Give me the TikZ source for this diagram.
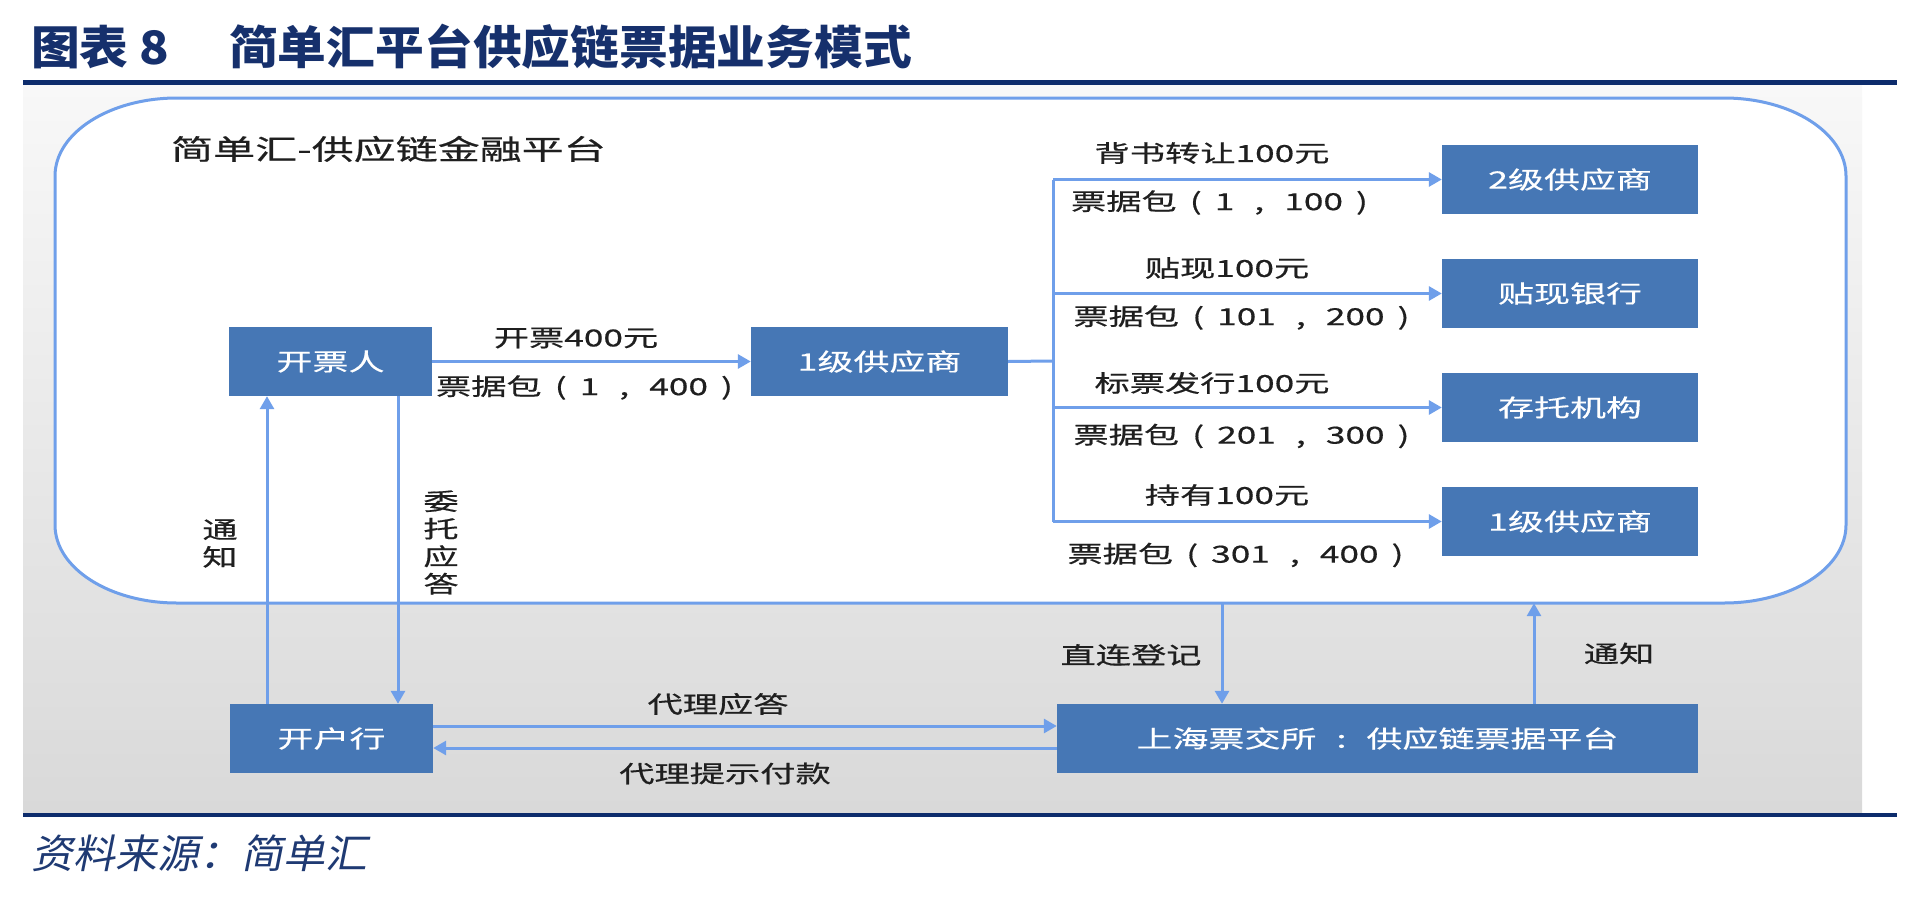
\documentclass[tikz,border=0pt]{standalone}
\usepackage{fontspec}
\usetikzlibrary{arrows.meta,calc}
\newfontfamily\lblfont{Noto Sans CJK SC}[FakeStretch=1.5,FakeBold=0.6]
\newfontfamily\boxfont{Noto Sans CJK SC}[FakeStretch=1.5,FakeBold=0.4]
\newfontfamily\titlefont{Noto Sans CJK SC}[FakeStretch=1.06]
\newfontfamily\footfont{Noto Sans CJK SC}[FakeStretch=1.05,FakeSlant=0.2]
\newcommand{\myLP}{\makebox[38pt][c]{(}}
\newcommand{\myRP}{\makebox[38pt][c]{)}}
\newcommand{\myCM}{\makebox[50pt][c]{,}}
\newcommand{\myCL}{\makebox[50pt][c]{:}}
\definecolor{boxblue}{HTML}{4677B5}
\definecolor{lineblue}{HTML}{6F9FEA}
\definecolor{navy}{HTML}{0D2C6C}
\definecolor{titlenavy}{HTML}{16306C}
\definecolor{srcnavy}{HTML}{1F3A73}
\definecolor{paneltop}{HTML}{F8F8F8}
\definecolor{panelbot}{HTML}{D9D9D9}
\begin{document}
\begin{tikzpicture}[x=1pt,y=-1pt,
  bluebox/.style={rectangle, fill=boxblue, draw=none, text=white,
    font=\boxfont\fontsize{24}{28}\selectfont, minimum height=69pt, inner sep=0pt},
  lbl/.style={font=\lblfont\fontsize{23.5}{27.5}\selectfont, text=black!88, inner sep=0pt},
  arr/.style={draw=lineblue, line width=3pt, -{Triangle[length=13pt,width=14pt]}},
  plainline/.style={draw=lineblue, line width=3pt}]
\useasboundingbox (0,0) rectangle (1920,902);
\fill[white] (0,0) rectangle (1920,902);
% panel
\shade[top color=paneltop,bottom color=panelbot] (23,85) rectangle (1862,812);
\draw[navy, line width=5pt] (23,82.5) -- (1897,82.5);
\draw[navy, line width=4pt] (23,815) -- (1897,815);
% title and source
\node[anchor=west, text=titlenavy, font=\titlefont\bfseries\fontsize{46}{50}\selectfont, inner sep=0pt] (t1) at (31,47) {图表 8};
\node[anchor=west, text=titlenavy, font=\titlefont\bfseries\fontsize{46}{50}\selectfont, inner sep=0pt] (t2) at (229,47) {简单汇平台供应链票据业务模式};
\node[anchor=west, text=srcnavy, font=\footfont\fontsize{40}{44}\selectfont, inner sep=0pt] (src) at (31,853) {资料来源：简单汇};
% platform outline
\draw[lineblue, line width=3pt, fill=white]
  (177,98) -- (1724,98) .. controls (1791.4,98) and (1846,132.9) .. (1846,176)
  -- (1846,525) .. controls (1846,568.1) and (1791.4,603) .. (1724,603)
  -- (177,603) .. controls (109.6,603) and (55,568.1) .. (55,525)
  -- (55,176) .. controls (55,132.9) and (109.6,98) .. (177,98) -- cycle;
\node[rectangle, minimum width=1791pt, minimum height=505pt, inner sep=0pt] (plat) at (950.5,350.5) {};
\node[lbl, anchor=west] (plattitle) at (171,149) {\fontsize{28}{30}\selectfont 简单汇-供应链金融平台};
% boxes
\node[bluebox, minimum width=203pt] (kpr) at (330.5,361.5) {开票人};
\node[bluebox, minimum width=257pt] (s1) at (879.5,361.5) {1级供应商};
\node[bluebox, minimum width=256pt] (s2) at (1570,179.5) {2级供应商};
\node[bluebox, minimum width=256pt] (bank) at (1570,293.5) {贴现银行};
\node[bluebox, minimum width=256pt] (dep) at (1570,407.5) {存托机构};
\node[bluebox, minimum width=256pt] (s1b) at (1570,521.5) {1级供应商};
\node[bluebox, minimum width=203pt] (khh) at (331.5,738.5) {开户行};
\node[bluebox, minimum width=641pt] (sh) at (1377.5,738.5) {上海票交所\myCL 供应链票据平台};
% labels
\node[lbl] (l1a) at (576,338) {开票400元};
\node[lbl] (l1b) at (591,387.5) {票据包\myLP 1\myCM 400\myRP};
\node[lbl] (l2a) at (1212,153) {背书转让100元};
\node[lbl] (l2b) at (1226,202.5) {票据包\myLP 1\myCM 100\myRP};
\node[lbl] (l3a) at (1227,268) {贴现100元};
\node[lbl] (l3b) at (1248,317.5) {票据包\myLP 101\myCM 200\myRP};
\node[lbl] (l4a) at (1212,383) {标票发行100元};
\node[lbl] (l4b) at (1248,436) {票据包\myLP 201\myCM 300\myRP};
\node[lbl] (l5a) at (1227,495) {持有100元};
\node[lbl] (l5b) at (1242,555) {票据包\myLP 301\myCM 400\myRP};
\node[lbl] (lzl) at (1131,655) {直连登记};
\node[lbl] (ltz2) at (1619,653.5) {通知};
\node[lbl] (ldy) at (718,704) {代理应答};
\node[lbl] (ldt) at (725,773.5) {代理提示付款};
\node[lbl, align=center] (ltz1) at (220,543.5) {通\\知};
\node[lbl, align=center] (lwt) at (441,542.5) {委\\托\\应\\答};
% connectors
\coordinate (br) at (1053,361);
\coordinate (xl) at (267,0);
\coordinate (xr) at (398,0);
\coordinate (ya) at (0,726);
\coordinate (yb) at (0,748);
\coordinate (xd) at (1222,0);
\coordinate (xn) at (1534,0);
\draw[arr] (kpr) -- (s1);
\draw[plainline] (s1.east) -- (br);
\draw[plainline] (br |- s2.west) -- (br |- s1b.west);
\draw[arr] (br |- s2.west) -- (s2.west);
\draw[arr] (br |- bank.west) -- (bank.west);
\draw[arr] (br |- dep.west) -- (dep.west);
\draw[arr] (br |- s1b.west) -- (s1b.west);
\draw[arr] (xl |- khh.north) -- (xl |- kpr.south);
\draw[arr] (xr |- kpr.south) -- (xr |- khh.north);
\draw[arr] (khh.east |- ya) -- (sh.west |- ya);
\draw[arr] (sh.west |- yb) -- (khh.east |- yb);
\draw[arr] (xd |- plat.south) -- (xd |- sh.north);
\draw[arr] (xn |- sh.north) -- (xn |- plat.south);
\end{tikzpicture}
\end{document}
